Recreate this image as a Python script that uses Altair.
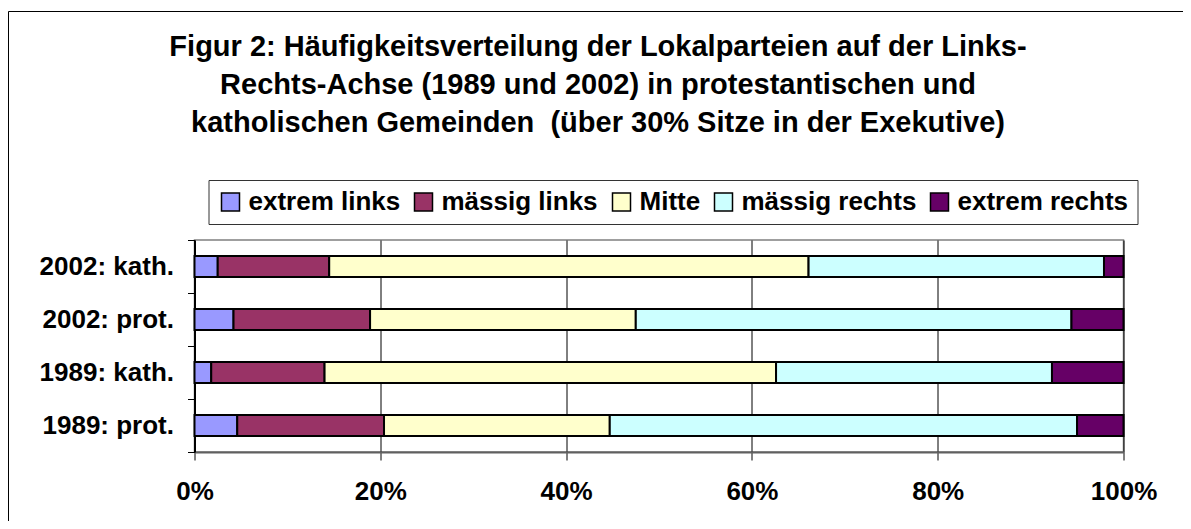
import altair as alt
import pandas as pd

rows = ["2002: kath.", "2002: prot.", "1989: kath.", "1989: prot."]
categories = ["extrem links", "mässig links", "Mitte", "mässig rechts", "extrem rechts"]
colors = ["#9999FF", "#993366", "#FFFFCC", "#CCFFFF", "#660066"]
kath_2002 = [2.5, 12.0, 51.6, 31.8, 2.1]
prot_2002 = [4.2, 14.7, 28.6, 46.9, 5.6]
kath_1989 = [1.8, 12.2, 48.6, 29.7, 7.7]
prot_1989 = [4.6, 15.8, 24.3, 50.3, 5.0]
x_ticks = [0, 20, 40, 60, 80, 100]
title_lines = [
    "Figur 2: Häufigkeitsverteilung der Lokalparteien auf der Links-",
    "Rechts-Achse (1989 und 2002) in protestantischen und",
    "katholischen Gemeinden \u00a0(über 30% Sitze in der Exekutive)",
]

series = [kath_2002, prot_2002, kath_1989, prot_1989]
records = []
for r, vals in zip(rows, series):
    for i, (c, v) in enumerate(zip(categories, vals)):
        records.append({"Gruppe": r, "Kategorie": c, "ord": i, "Anteil": v})
df = pd.DataFrame(records)

FONT = "Liberation Sans"

bars = alt.Chart(df).mark_bar(
    stroke="black", strokeWidth=2, height={"band": 0.4}
).encode(
    x=alt.X("Anteil:Q", stack="zero",
            scale=alt.Scale(domain=[0, 100], nice=False),
            axis=alt.Axis(values=x_ticks, labelExpr="datum.value + '%'", title=None,
                          grid=True, gridColor="black", gridWidth=1,
                          domainColor="#606060", domainWidth=2,
                          tickColor="black", tickSize=8, tickWidth=1,
                          labelFlush=False, labelOverlap=False,
                          labelFont=FONT, labelFontSize=26, labelFontWeight="bold",
                          labelColor="black", labelPadding=18)),
    y=alt.Y("Gruppe:N", sort=rows,
            scale=alt.Scale(paddingInner=0, paddingOuter=0),
            axis=alt.Axis(title=None, tickBand="extent", tickSize=7, tickColor="black",
                          domainColor="black", domainWidth=2,
                          labelFont=FONT, labelFontSize=26, labelFontWeight="bold",
                          labelColor="black", labelPadding=14)),
    color=alt.Color("Kategorie:N", sort=categories,
                    scale=alt.Scale(domain=categories, range=colors),
                    legend=alt.Legend(title=None, orient="none", direction="horizontal",
                                      legendX=14, legendY=-60,
                                      symbolType="square", symbolSize=324,
                                      symbolStrokeColor="black", symbolStrokeWidth=1.5,
                                      symbolOpacity=1, labelLimit=0,
                                      labelFont=FONT, labelFontSize=26, labelFontWeight="bold",
                                      labelColor="black", labelOffset=5, columnPadding=10,
                                      padding=9, strokeColor="#333333", fillColor="white")),
    order=alt.Order("ord:Q"),
)

frame = alt.Chart(alt.Data(values=[{}])).mark_rect(
    fillOpacity=0, stroke="black", strokeWidth=1
).encode(
    x=alt.value(-186), x2=alt.value(1300),
    y=alt.value(-228.5), y2=alt.value(600),
)

chart = alt.layer(frame, bars).properties(
    width=929, height=212,
    padding={"left": 186.5, "top": 232, "right": 59.5, "bottom": 69},
    autosize=alt.AutoSizeParams(type="none"),
    title=alt.TitleParams(text=title_lines, font=FONT, fontSize=29, fontWeight="bold",
                          color="black", lineHeight=38, anchor="middle", dx=-61, dy=131),
).configure_view(stroke="#808080", strokeWidth=1.5)

chart.save("out.html", embed_options={"renderer": "svg", "actions": False})
